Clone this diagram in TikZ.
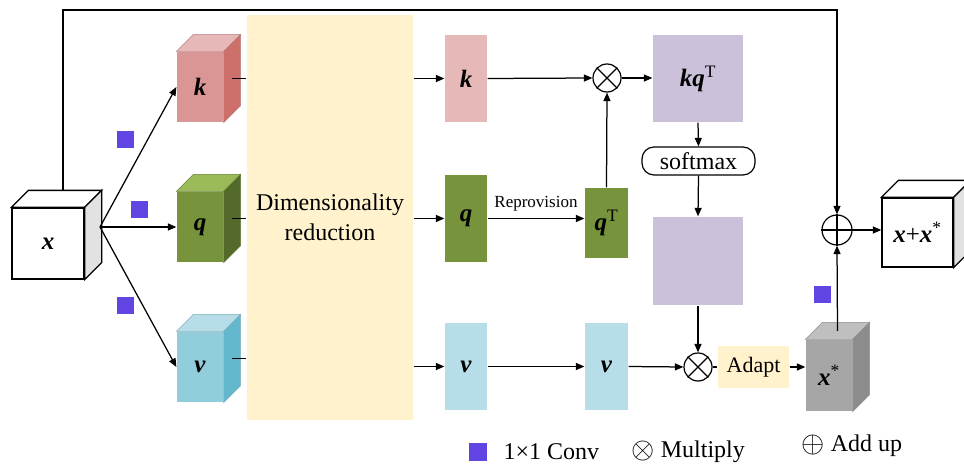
\documentclass[tikz,border=0pt]{standalone}
\usepackage{graphicx}
\usepackage{fontspec}
\setmainfont{Liberation Serif}
\usetikzlibrary{arrows.meta}

\definecolor{kfront}{RGB}{217,150,148}
\definecolor{ktop}{RGB}{230,185,184}
\definecolor{kside}{RGB}{205,112,108}
\definecolor{qfront}{RGB}{119,147,60}
\definecolor{qtop}{RGB}{155,187,89}
\definecolor{qside}{RGB}{84,106,42}
\definecolor{vfront}{RGB}{146,205,220}
\definecolor{vtop}{RGB}{183,222,232}
\definecolor{vside}{RGB}{100,184,205}
\definecolor{gfront}{RGB}{166,166,166}
\definecolor{gtop}{RGB}{191,191,191}
\definecolor{gside}{RGB}{140,140,140}
\definecolor{wside}{RGB}{226,226,226}
\definecolor{lav}{RGB}{204,193,218}
\definecolor{cream}{RGB}{255,242,204}
\definecolor{convc}{RGB}{98,68,226}

% top and right faces of a box whose front face is node #1
% #2 depth, #3 top colour, #4 side colour, #5 edge colour, #6 extra options
\newcommand{\cubefaces}[6]{%
  \filldraw[fill=#3, draw=#5, #6] (#1.north west) -- ([shift={(#2,-#2)}]#1.north west)
    -- ([shift={(#2,-#2)}]#1.north east) -- (#1.north east) -- cycle;
  \filldraw[fill=#4, draw=#5, #6] (#1.north east) -- ([shift={(#2,-#2)}]#1.north east)
    -- ([shift={(#2,-#2)}]#1.south east) -- (#1.south east) -- cycle;
  \coordinate (#1-side) at ([shift={(#2/2,-#2/2)}]#1.east);
  \coordinate (#1-top) at ([shift={(#2/2,-#2/2)}]#1.north);
}
\newcommand{\bv}[1]{\textbf{\textit{#1}}}
\newcommand{\legsym}[1]{\raisebox{-0.1ex}{\scalebox{1.2}{$#1$}}}

\begin{document}
\begin{tikzpicture}[x=1pt,y=-1pt, line width=1.25pt,
  arr/.style={-{Triangle[length=8.5pt,width=7pt]}},
  face/.style={rectangle, inner sep=0pt},
  big/.style={font=\fontsize{24}{30}\selectfont},
  var/.style={font=\fontsize{25}{30}\selectfont},
  conv/.style={fill=convc, minimum size=17pt, inner sep=0pt, rectangle},
  opnode/.style={circle, draw, line width=1.2pt, minimum size=28pt, inner sep=0pt}]

\useasboundingbox (0,0) rectangle (964,468);
\clip (0,0) rectangle (964,468);

% input cube
\node[face, var, fill=white, draw=black, line width=1.3pt, minimum width=72pt, minimum height=71pt] (x) at (48,243.5) {\bv{x}};
\cubefaces{x}{17}{white}{wside}{black}{line width=1.3pt}

% k, q, v cubes
\node[face, var, fill=kfront, minimum width=46pt, minimum height=70pt] (kc) at (200,87) {\bv{k}};
\cubefaces{kc}{17}{ktop}{kside}{kfront!85!black}{line width=0.4pt}
\node[face, var, fill=qfront, minimum width=46pt, minimum height=70pt] (qc) at (200,227) {\bv{q}};
\cubefaces{qc}{17}{qtop}{qside}{qfront!85!black}{line width=0.4pt}
\node[face, var, fill=vfront, minimum width=46pt, minimum height=70pt] (vc) at (200,367) {\bv{v}};
\cubefaces{vc}{17}{vtop}{vside}{vfront!85!black}{line width=0.4pt}

% 1x1 convolutions
\node[conv] (c1) at (125,139.5) {};
\node[conv] (c2) at (139,209.5) {};
\node[conv] (c3) at (125,305.5) {};
\node[conv] (c4) at (822.5,294.5) {};

\coordinate (xsplit) at (100,227);
\draw[arr] (xsplit) -- (kc.west);
\draw[arr] (xsplit) -- (qc.west);
\draw[arr] (xsplit) -- (vc.west);

% dimensionality reduction
\node[face, big, fill=cream, minimum width=166pt, minimum height=405pt, align=center] (dim) at (330,217.5) {Dimensionality\\reduction};
\draw (kc-side) -- (kc-side -| dim.west);
\draw (qc-side) -- (qc-side -| dim.west);
\draw (vc-side) -- (vc-side -| dim.west);

% reduced k, q, v
\node[face, var, fill=ktop, minimum width=42pt, minimum height=87pt] (kr) at (466,78.5) {\bv{k}};
\node[face, var, fill=qfront, minimum width=42pt, minimum height=87pt] (qr) at (466,218.5) {\bv{q}};
\node[face, var, fill=vtop, minimum width=42pt, minimum height=87pt] (vr) at (466,366.5) {\bv{v}};
\draw[arr] (kr.west -| dim.east) -- (kr.west);
\draw[arr] (qr.west -| dim.east) -- (qr.west);
\draw[arr] (vr.west -| dim.east) -- (vr.west);

% attention branch
\node[face, var, fill=qfront, minimum width=43pt, minimum height=70pt] (qt) at (606.5,223) {\bv{q}\textsuperscript{T}};
\node[face, var, fill=vtop, minimum width=43pt, minimum height=87pt] (v2) at (606.5,366.5) {\bv{v}};
\node[opnode] (m1) at (607,78) {};
\draw (m1.north west) -- (m1.south east) (m1.north east) -- (m1.south west);
\node[face, var, fill=lav, minimum width=90pt, minimum height=87pt] (kq) at (698,78.5) {\bv{kq}\textsuperscript{T}};
\node[big, draw, rounded corners=12pt, line width=1.2pt, minimum width=113pt, minimum height=28pt, inner sep=0pt] (sm) at (698.5,161) {softmax};
\node[face, fill=lav, minimum width=90pt, minimum height=88pt] (att) at (698,261) {};
\node[opnode] (m2) at (698,367) {};
\draw (m2.north west) -- (m2.south east) (m2.north east) -- (m2.south west);
\node[face, fill=cream, font=\fontsize{22}{26}\selectfont, minimum width=71pt, minimum height=42pt] (ad) at (753.5,367) {Adapt};

\draw[arr] (kr.east) -- (m1.west);
\draw[arr] (m1.east) -- (kq.west |- m1.east);
\draw[arr] (qr.east) -- (qr.east -| qt.west) node[midway, above=3pt, font=\fontsize{17}{20}\selectfont] {Reprovision};
\draw[arr] (qt.north) -- (m1.south);
\draw[arr] (kq.south) -- (sm.north);
\draw[arr] (sm.south) -- (att.north);
\draw[arr] (att.south) -- (m2.north);
\draw[arr] (vr.east) -- (v2.west);
\draw[arr] (v2.east) -- (m2.west);
\draw (m2.east) -- (ad.west);

% output
\node[face, var, fill=gfront, minimum width=46pt, minimum height=71pt] (xs) at (829,375.5) {\bv{x}\textsuperscript{*}};
\cubefaces{xs}{17}{gtop}{gside}{gfront!85!black}{line width=0.4pt}
\draw[arr] (ad.east) -- (xs.west |- ad.east);

\node[opnode, minimum size=30pt] (ps) at (837,230) {};
\draw (ps.north) -- (ps.south) (ps.east) -- (ps.west);
\node[face, var, fill=white, draw=black, line width=1.3pt, minimum width=71pt, minimum height=69pt] (out) at (917.5,232.5) {\bv{x}+\bv{x}\textsuperscript{*}};
\cubefaces{out}{17}{white}{wside}{black}{line width=1.3pt}

\draw[arr] (xs-top) -- (ps.south);
\draw[arr] (ps.east) -- (out.west |- ps.east);

% residual path
\coordinate (xtop) at (63,191);
\coordinate (topc) at (837,10);
\draw[arr] (xtop) |- (topc) -- (ps.north);

% legend
\node[conv, minimum size=18pt] (lg1) at (478,451.5) {};
\node[big, anchor=west, inner sep=0pt] (lt1) at (503,452) {1×1 Conv};
\node[big, anchor=west, inner sep=0pt] (lt2) at (631,452) {\legsym{\otimes}\ Multiply};
\node[big, anchor=west, inner sep=0pt] (lt3) at (801,446) {\legsym{\oplus}\ Add up};
\end{tikzpicture}
\end{document}
